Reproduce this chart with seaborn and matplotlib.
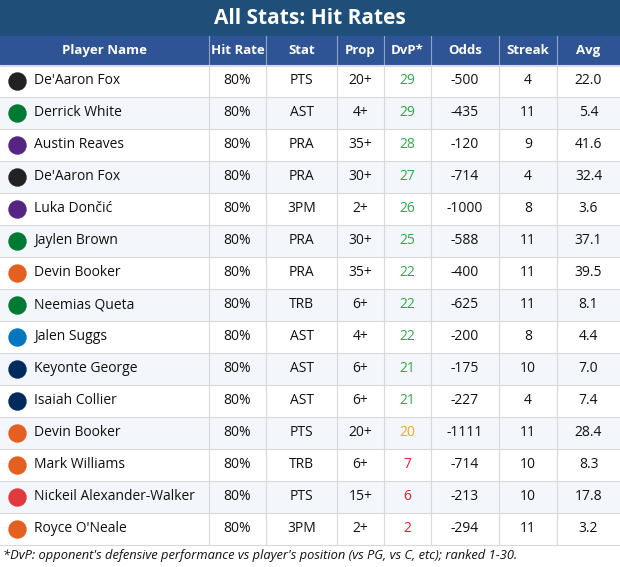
import numpy as np
import pandas as pd
import matplotlib
matplotlib.use("Agg")
import matplotlib.pyplot as plt
import seaborn as sns

players = ["De'Aaron Fox","Derrick White","Austin Reaves","De'Aaron Fox","Luka Dončić","Jaylen Brown",
           "Devin Booker","Neemias Queta","Jalen Suggs","Keyonte George","Isaiah Collier","Devin Booker",
           "Mark Williams","Nickeil Alexander-Walker","Royce O'Neale"]
teams = ["SAS","BOS","LAL","SAS","LAL","BOS","PHX","BOS","ORL","UTA","UTA","PHX","PHX","ATL","PHX"]
hit_rate = ["80%"]*15
stats = ["PTS","AST","PRA","PRA","3PM","PRA","PRA","TRB","AST","AST","AST","PTS","TRB","PTS","3PM"]
props = ["20+","4+","35+","30+","2+","30+","35+","6+","4+","6+","6+","20+","6+","15+","2+"]
dvp = [29,29,28,27,26,25,22,22,22,21,21,20,7,6,2]
odds = [-500,-435,-120,-714,-1000,-588,-400,-625,-200,-175,-227,-1111,-714,-213,-294]
streak = [4,11,9,4,8,11,11,11,8,10,4,11,10,10,11]
avg = [22.0,5.4,41.6,32.4,3.6,37.1,39.5,8.1,4.4,7.0,7.4,28.4,8.3,17.8,3.2]
headers = ["Player Name","Hit Rate","Stat","Prop","DvP*","Odds","Streak","Avg"]
team_colors = {"SAS":"#222222","BOS":"#007A33","LAL":"#552583","PHX":"#E56020","ORL":"#0077C0","UTA":"#002B5C","ATL":"#E03A3E"}

W, H = 620, 567
fig = plt.figure(figsize=(6.2, 5.67), dpi=100)
xb = [0, 209, 266, 337, 384, 431, 499, 557, 620]
top, rh, hy0 = 65, 32, 36
n = len(players)

# row backgrounds via seaborn heatmap on an axes spanning the table body
bax = fig.add_axes([0, 1 - (top + n*rh)/H, 1, n*rh/H])
bg = pd.DataFrame(np.array([[i % 2] for i in range(n)]))
sns.heatmap(bg, ax=bax, cmap=matplotlib.colors.ListedColormap(["#ffffff", "#f3f6fa"]), cbar=False,
            xticklabels=False, yticklabels=False, vmin=0, vmax=1)
bax.axis("off")

ax = fig.add_axes([0, 0, 1, 1])
ax.patch.set_alpha(0)
ax.set_xlim(0, W); ax.set_ylim(H, 0); ax.axis("off")

ax.add_patch(plt.Rectangle((0, 0), W, hy0, color="#1f4e79"))
ax.add_patch(plt.Rectangle((0, hy0), W, top - hy0, color="#2f5496"))
ax.text(W/2, hy0/2 + 1, "All Stats: Hit Rates", color="white", fontsize=15, fontweight="bold",
        ha="center", va="center", family="Open Sans")
for j, h in enumerate(headers):
    ax.text((xb[j]+xb[j+1])/2, (hy0+top)/2, h, color="white", fontsize=9.5, fontweight="bold",
            ha="center", va="center", family="Open Sans")
for x in xb[1:-1]:
    ax.plot([x, x], [hy0, top], color="#8ea3c8", lw=0.8)
    ax.plot([x, x], [top, top + n*rh], color="#d9d9d9", lw=0.8)
for i in range(n + 1):
    ax.plot([0, W], [top + i*rh]*2, color="#d9d9d9", lw=0.8)

def dvp_color(v):
    if v >= 21: return "#2eaa4a"
    if v >= 11: return "#f5a623"
    return "#ee1c25"

for i in range(n):
    y = top + i*rh + rh/2
    ax.scatter([17], [y], s=150, color=team_colors[teams[i]], zorder=3)
    ax.text(34, y, players[i], fontsize=10, va="center", ha="left", family="Open Sans", color="#111111")
    vals = [hit_rate[i], stats[i], props[i], str(dvp[i]), str(odds[i]), str(streak[i]), f"{avg[i]:.1f}"]
    for j, v in enumerate(vals, start=1):
        ax.text((xb[j]+xb[j+1])/2, y, v, fontsize=10, va="center", ha="center", family="Open Sans",
                color=dvp_color(dvp[i]) if j == 4 else "#111111")

ax.text(3, 555, "*DvP: opponent's defensive performance vs player's position (vs PG, vs C, etc); ranked 1-30.",
        fontsize=9.3, style="italic", va="center", ha="left", family="Open Sans", color="#111111")
fig.savefig("out.png", dpi=100)
